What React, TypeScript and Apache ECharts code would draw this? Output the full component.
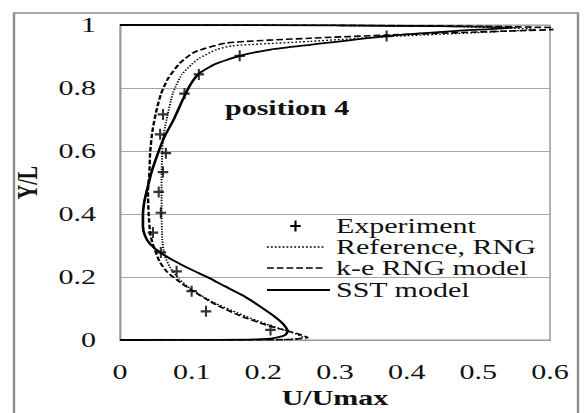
import React, { useEffect, useRef } from "react";
import * as echarts from "echarts";

// Experiment points [U/Umax, Y/L]
const experiment: number[][] = [
  [0.21, 0.032], [0.12, 0.091], [0.1, 0.155], [0.079, 0.218], [0.057, 0.278],
  [0.046, 0.341], [0.057, 0.404], [0.054, 0.47], [0.06, 0.533], [0.064, 0.593],
  [0.056, 0.653], [0.06, 0.716], [0.09, 0.782], [0.11, 0.843], [0.167, 0.902],
  [0.372, 0.965],
];

// Reference, RNG (dotted)
const referenceRng: number[][] = [
  [0, 0], [0.2, 0.0005], [0.235, 0.002], [0.255, 0.008], [0.245, 0.02], [0.205, 0.05],
  [0.165, 0.085], [0.13, 0.12], [0.1, 0.16], [0.082, 0.195], [0.07, 0.23], [0.062, 0.27],
  [0.059, 0.32], [0.058, 0.4], [0.058, 0.47], [0.058, 0.53], [0.059, 0.593], [0.06, 0.64],
  [0.065, 0.7], [0.074, 0.785], [0.086, 0.842], [0.1, 0.875], [0.111, 0.895], [0.135, 0.922],
  [0.157, 0.934], [0.265, 0.948], [0.372, 0.963], [0.5, 0.976], [0.58, 0.986], [0.45, 0.996],
  [0.25, 0.999], [0, 1],
];

// k-e RNG model (dashed)
const keRng: number[][] = [
  [0, 0], [0.2, 0.0005], [0.24, 0.002], [0.262, 0.008], [0.25, 0.018], [0.209, 0.044],
  [0.17, 0.075], [0.135, 0.111], [0.1, 0.158], [0.08, 0.19], [0.065, 0.218], [0.055, 0.25],
  [0.05, 0.278], [0.045, 0.31], [0.042, 0.34], [0.04, 0.4], [0.039, 0.47], [0.041, 0.53],
  [0.042, 0.593], [0.045, 0.66], [0.05, 0.72], [0.057, 0.78], [0.067, 0.83], [0.084, 0.88],
  [0.105, 0.915], [0.149, 0.943], [0.265, 0.958], [0.372, 0.968], [0.5, 0.978], [0.6, 0.985],
  [0.62, 0.99], [0.5, 0.996], [0.3, 0.999], [0, 1],
];

// SST model (solid)
const sst: number[][] = [
  [0, 0], [0.12, 0.0005], [0.19, 0.002], [0.215, 0.006], [0.23, 0.015], [0.234, 0.028],
  [0.228, 0.05], [0.213, 0.079], [0.19, 0.115], [0.171, 0.142], [0.145, 0.172], [0.125, 0.196],
  [0.098, 0.225], [0.075, 0.252], [0.056, 0.278], [0.042, 0.305], [0.035, 0.33], [0.032, 0.36],
  [0.032, 0.4], [0.034, 0.44], [0.037, 0.47], [0.044, 0.533], [0.053, 0.593], [0.062, 0.645],
  [0.075, 0.7], [0.088, 0.765], [0.098, 0.81], [0.11, 0.845], [0.133, 0.876], [0.167, 0.902],
  [0.21, 0.922], [0.265, 0.937], [0.372, 0.965], [0.46, 0.98], [0.55, 0.992], [0.3, 0.999],
  [0, 1],
];

const seriesNames = ["Experiment", "Reference, RNG", "k-e RNG model", "SST model"];
const xTitle = "U/Umax";
const yTitle = "Y/L";
const annotation = "position 4";

const SERIF = '"Liberation Serif", "Times New Roman", serif';
const PLUS = "path://M4,0H6V4H10V6H6V10H4V6H0V4H4Z";
const SX = 1.5;
const W = 584 / SX;
const H = 413;

function plusPoints(cx: number, cy: number) {
  const w = 3.5, h = 5.5, tx = 0.7, ty = 1.1;
  return [
    [cx - tx, cy - h], [cx + tx, cy - h], [cx + tx, cy - ty], [cx + w, cy - ty],
    [cx + w, cy + ty], [cx + tx, cy + ty], [cx + tx, cy + h], [cx - tx, cy + h],
    [cx - tx, cy + ty], [cx - w, cy + ty], [cx - w, cy - ty], [cx - tx, cy - ty],
  ];
}

export default function App() {
  const ref = useRef<HTMLDivElement>(null);
  useEffect(() => {
    if (!ref.current) return;
    const chart = echarts.init(ref.current, null, { renderer: "svg", width: W, height: H });
    const legX1 = 178, legX2 = 217, legText = 224;
    const rows = [226, 247, 268, 290];
    const txt = (t: string, y: number) => ({
      type: "text",
      z: 50,
      style: { text: t, x: legText, y, font: `20px ${SERIF}`, fill: "#111", verticalAlign: "middle" },
    });
    chart.setOption({
      animation: false,
      backgroundColor: "#fff",
      grid: { left: 80, right: W - 550 / SX, top: 25, bottom: H - 342, show: true, borderColor: "#999", borderWidth: 1 },
      xAxis: {
        type: "value", min: 0, max: 0.6, interval: 0.1,
        name: xTitle, nameLocation: "middle", nameGap: 48,
        nameTextStyle: { fontFamily: SERIF, fontWeight: "bold", fontSize: 20, color: "#111" },
        axisLine: { show: true, lineStyle: { color: "#999" } },
        axisTick: { show: false },
        splitLine: { show: false },
        axisLabel: { fontFamily: SERIF, fontSize: 20, color: "#111", margin: 22 },
      },
      yAxis: {
        type: "value", min: 0, max: 1, interval: 0.2,
        name: yTitle, nameLocation: "middle", nameGap: 44,
        nameTextStyle: { fontFamily: SERIF, fontWeight: "bold", fontSize: 20, color: "#111" },
        axisLine: { show: true, lineStyle: { color: "#999" } },
        axisTick: { show: false },
        splitLine: { show: true, lineStyle: { color: "#a6a6a6", width: 1 } },
        axisLabel: { fontFamily: SERIF, fontSize: 20, color: "#111", margin: 16 },
      },
      graphic: [
        { type: "polyline", z: 100, shape: { points: [[14 / SX, 420], [14 / SX, 13], [578 / SX, 13], [578 / SX, 420]] },
          style: { fill: null, stroke: "#8c8c8c", lineWidth: 1.6 } },
        { type: "text", z: 50, style: { text: annotation, x: 150, y: 108, font: `bold 20px ${SERIF}`, fill: "#111", verticalAlign: "middle" } },
        { type: "polygon", z: 50, shape: { points: plusPoints(197, rows[0]) }, style: { fill: "#000" } },
        txt(seriesNames[0], rows[0]),
        { type: "line", z: 50, shape: { x1: legX1, y1: rows[1], x2: legX2, y2: rows[1] }, style: { stroke: "#000", lineWidth: 1.3, lineDash: [1.2, 1.4] } },
        txt(seriesNames[1], rows[1]),
        { type: "line", z: 50, shape: { x1: legX1, y1: rows[2], x2: legX2, y2: rows[2] }, style: { stroke: "#000", lineWidth: 1.6, lineDash: [4.5, 2] } },
        txt(seriesNames[2], rows[2]),
        { type: "line", z: 50, shape: { x1: legX1, y1: rows[3], x2: legX2 + 3, y2: rows[3] }, style: { stroke: "#000", lineWidth: 1.8 } },
        txt(seriesNames[3], rows[3]),
      ],
      series: [
        { name: seriesNames[1], type: "line", data: referenceRng, symbol: "none", smooth: 0.2,
          lineStyle: { color: "#000", width: 1.3, type: [1.2, 1.4] }, z: 2 },
        { name: seriesNames[2], type: "line", data: keRng, symbol: "none", smooth: 0.2,
          lineStyle: { color: "#000", width: 1.6, type: [4.5, 2] }, z: 3 },
        { name: seriesNames[3], type: "line", data: sst, symbol: "none", smooth: 0.2,
          lineStyle: { color: "#000", width: 1.8 }, z: 4 },
        { name: seriesNames[0], type: "scatter", data: experiment, symbol: PLUS, symbolSize: [7, 11],
          itemStyle: { color: "#000" }, z: 5 },
      ],
    });
    return () => chart.dispose();
  }, []);
  return (
    <div style={{ position: "fixed", left: 0, top: 0, width: 584, height: 413, overflow: "hidden", background: "#fff" }}>
      <div ref={ref} style={{ width: W, height: H, transform: `scaleX(${SX})`, transformOrigin: "0 0" }} />
    </div>
  );
}
